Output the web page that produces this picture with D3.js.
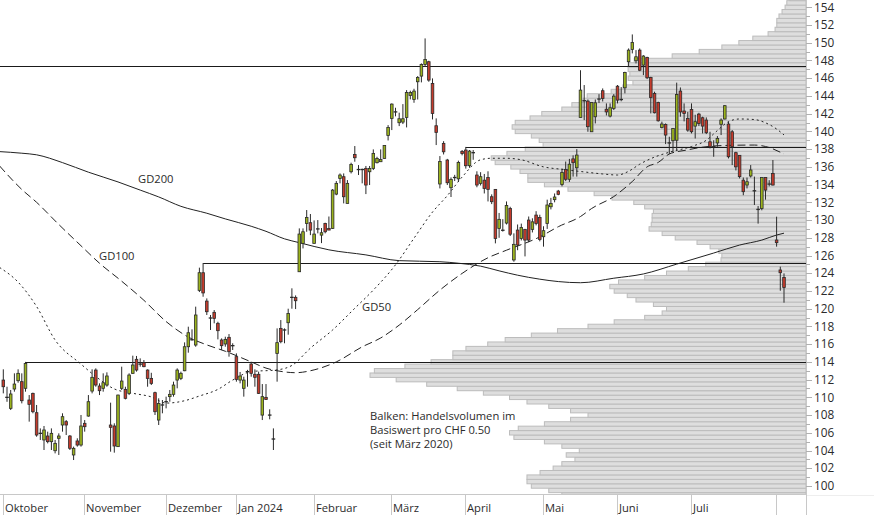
<!DOCTYPE html>
<html><head><meta charset="utf-8">
<script src="https://cdn.jsdelivr.net/npm/d3@7"></script>
<style>
body{margin:0;background:#fff}
svg{display:block}
text{font-family:"Open Sans",sans-serif;fill:#2b2b2b}
</style>
</head><body>
<svg id="c" width="874" height="515"></svg>
<script>
// ---------- DATA ----------
// trading-day index 0 = 2 Oct 2023 ... 211 = 6 Aug 2024
const monthIdx   = [0, 22, 44, 63, 84, 105, 125, 146, 166, 186, 209];
const monthNames = ["Oktober","November","Dezember","Jan 2024","Februar","März","April","Mai","Juni","Juli",""];

const openV = [111.95,110.05,108.76,110.94,111.88,111.77,111.02,109.7,110.45,108.27,105.98,105.19,105.64,105.0,103.98,105.38,106.88,107.26,105.64,103.5,105.08,104.62,
107.07,107.89,110.71,113.08,111.28,111.02,111.39,106.88,106.77,104.44,111.02,110.9,110.45,112.71,114.29,113.8,113.9,113.08,112.14,110.53,107.44,109.18,
109.55,110.08,110.34,111.95,112.14,113.0,115.71,116.6,115.9,122.07,124.06,120.86,119.0,119.59,118.35,116.47,116.02,116.77,115.87,
114.59,111.95,111.02,112.95,113.76,112.6,112.6,108.0,110.0,108.05,105.35,114.96,117.78,117.65,118.42,121.32,121.28,124.17,127.37,129.62,129.7,
127.37,128.9,128.3,129.62,129.06,129.06,132.93,134.7,134.89,131.88,135.45,137.4,135.75,135.75,135.83,135.45,135.83,136.47,136.58,136.95,139.55,
141.47,142.25,140.98,141.05,141.58,144.06,143.61,145.6,146.24,147.56,147.86,145.41,140.64,134.07,138.65,136.77,133.65,134.85,134.65,137.75,
137.9,136.13,137.5,135.08,134.14,134.5,134.8,132.63,133.46,129.06,128.9,129.66,131.3,125.5,128.87,127.93,128.95,130.0,128.95,130.56,130.3,
128.12,129.62,131.5,132.3,133.27,134.0,135.7,134.6,136.9,135.9,141.58,143.5,143.42,139.96,141.65,143.6,144.59,142.5,141.73,142.6,
145.1,143.65,144.92,147.86,149.25,147.97,149.17,147.48,148.35,146.09,144.29,143.27,140.45,140.79,138.8,138.95,139.0,144.55,142.3,141.47,
142.48,140.6,141.95,141.54,141.28,138.83,138.3,138.7,140.8,141.4,140.83,139.96,137.6,137.3,134.5,133.95,134.97,133.35,131.25,131.3,134.8,134.1,135.26,
127.75,124.37,123.53];
const highV = [113.16,111.2,110.83,112.71,113.16,112.71,114.0,110.26,110.53,109.14,106.5,106.77,106.13,106.5,105.19,105.94,108.2,107.44,105.75,104.44,105.38,108.01,
107.44,110.26,113.16,113.27,111.58,112.71,112.82,109.4,107.07,110.3,113.46,111.2,112.71,114.7,114.67,114.4,114.21,113.16,112.77,110.64,109.89,109.7,
110.08,110.83,111.77,113.27,112.9,116.2,117.97,117.67,120.23,124.63,125.15,121.16,119.29,119.85,118.53,116.65,116.84,117.14,116.1,
114.96,112.86,112.33,113.1,114.02,113.16,112.9,111.5,111.5,108.65,106.5,117.78,118.72,117.78,120.0,122.3,121.5,129.06,129.06,131.13,130.68,
129.96,130.0,129.1,129.7,130.4,133.5,134.4,135.26,135.26,134.51,136.47,138.35,136.2,135.8,136.1,136.1,137.97,137.14,137.97,138.42,140.71,
143.16,142.67,142.11,143.08,144.66,144.59,144.81,146.24,147.67,150.49,147.97,145.98,141.47,137.22,138.9,136.9,134.81,135.1,136.7,137.9,
138.25,137.9,137.9,135.5,135.4,135.2,135.5,132.9,133.5,130.8,130.1,132.1,131.5,128.5,129.5,129.6,129.0,130.4,130.2,131.0,130.6,
129.3,132.3,132.5,133.0,133.4,135.8,136.6,136.9,137.3,138.0,146.9,145.23,143.6,143.3,143.6,144.2,144.85,143.16,143.16,144.21,
145.23,145.0,146.73,149.36,150.94,149.17,149.36,148.6,148.42,146.16,144.48,143.35,141.1,140.9,139.4,140.34,145.5,144.96,143.16,142.2,
143.16,141.88,142.1,141.66,141.58,139.96,139.0,139.47,141.47,142.97,141.1,140.15,137.7,137.3,134.8,134.8,136.2,134.9,131.58,134.8,134.8,134.5,136.77,
130.38,124.74,123.98];
const lowV = [110.45,109.5,108.57,110.64,111.65,109.32,110.64,107.26,108.2,105.56,105.19,104.06,104.81,104.06,103.68,103.5,106.13,105.75,104.06,102.93,104.44,104.44,
106.13,107.82,110.45,111.2,110.26,110.64,111.2,103.87,103.76,104.4,110.83,109.77,110.26,112.65,112.9,113.46,113.4,111.2,111.39,108.01,106.88,108.2,
108.76,109.51,110.08,111.02,111.95,112.95,115.04,116.4,115.71,121.88,121.35,119.29,117.6,118.35,116.54,115.34,115.71,114.59,115.34,
111.77,111.58,110.08,111.2,112.33,111.2,110.38,107.44,109.7,107.52,104.06,111.77,116.1,116.1,117.07,120.0,119.96,124.17,126.8,128.68,128.3,
127.37,128.5,127.4,128.5,128.87,129.0,132.8,134.14,131.88,131.88,135.26,136.58,135.08,134.14,132.93,133.95,135.64,136.39,136.58,136.95,138.98,
140.15,141.7,140.6,140.83,140.45,143.61,143.23,143.6,145.53,147.3,145.6,141.35,138.46,133.57,137.4,133.95,132.6,134.4,134.3,137.3,
135.8,135.9,136.8,133.7,133.9,133.0,132.1,131.8,127.37,128.0,128.7,129.5,128.2,125.3,126.6,127.7,125.9,127.5,128.6,129.4,127.6,
127.0,129.0,131.2,132.0,132.8,133.8,134.4,134.3,134.9,134.9,141.58,141.28,139.96,139.96,140.9,143.2,143.38,141.8,141.58,142.41,
143.16,143.4,144.29,147.3,148.8,147.67,146.8,146.35,145.9,142.03,142.03,141.1,140.34,138.57,137.44,137.7,137.9,141.66,141.13,139.96,
139.77,139.2,140.6,139.77,139.7,138.08,137.14,138.27,139.59,141.35,136.95,136.2,135.6,134.7,132.8,133.57,134.8,131.7,129.6,131.1,132.3,133.8,133.9,
127.0,122.03,120.68];
const closeV = [111.2,110.0,110.38,111.5,112.71,109.62,113.83,109.21,108.38,105.75,105.94,106.32,105.0,105.94,104.81,105.64,107.82,106.88,104.25,104.25,104.62,106.77,
106.69,109.51,112.26,111.39,110.75,111.65,112.41,106.62,104.51,110.26,111.84,109.89,112.52,113.65,113.08,113.75,113.46,112.14,111.58,108.38,109.32,109.14,
109.51,110.34,111.39,113.08,112.71,115.71,117.29,116.5,119.29,124.06,121.78,119.66,118.95,118.91,117.52,115.83,116.54,115.15,115.83,
112.03,112.41,111.95,112.9,112.71,112.26,110.45,110.08,109.77,108.0,105.3,116.17,116.28,117.6,119.47,121.28,120.9,128.42,128.68,130.3,128.87,
128.42,129.0,128.57,128.68,128.87,133.38,134.14,135.08,132.63,134.14,136.28,137.03,135.7,135.7,133.95,135.83,137.52,136.95,136.84,138.42,140.45,
143.08,142.2,141.43,141.43,144.4,144.4,144.55,146.09,147.56,148.12,145.79,142.03,139.89,136.6,137.7,134.21,134.59,134.8,136.5,137.5,
136.13,137.78,137.6,133.95,134.89,133.57,133.46,132.07,127.93,130.08,128.85,131.65,128.4,127.26,127.18,129.17,127.74,127.74,129.8,129.62,127.82,
128.8,131.7,131.88,132.6,132.9,135.38,134.6,136.3,136.47,137.33,144.66,143.46,140.53,143.27,143.23,143.65,143.72,142.2,142.67,143.98,
143.53,143.6,146.65,149.17,150.04,148.42,146.9,148.5,146.05,143.83,142.1,141.2,140.83,139.59,138.7,140.34,144.17,142.2,142.03,140.15,
139.96,141.1,140.9,140.6,139.85,138.27,138.27,139.2,141.28,142.9,137.14,138.27,136.0,134.9,133.2,134.32,135.65,133.3,131.2,134.8,133.38,134.06,133.95,
127.45,124.06,122.4];

// moving averages: [trading-day index, value]
const gd200 = [[-1,137.72],[5,137.54],[9,137.36],[16,136.48],[23,135.4],[31,134.3],[37,133.38],[42,132.61],[48,131.55],[55,130.77],[60,130.13],[67,129.3],[71,128.73],[76,127.88],[80,127.45],[88,126.64],[98,126.07],[107,125.42],[118,125.3],[123,125.13],[129,124.8],[134,124.27],[139,123.78],[145,123.33],[150,123.06],[156,122.93],[165,123.44],[173,123.92],[182,125.03],[192,126.28],[199,127.18],[205,127.74],[209,128.31],[211,128.52]];
const gd100 = [[-1,136.1],[5,133.45],[9,132.0],[15,129.5],[21,127.1],[26,125.13],[32,123.1],[38,120.95],[44,118.55],[50,116.8],[55,115.92],[60,115.2],[67,114.0],[71,113.3],[76,112.87],[79,112.78],[84,113.1],[90,114.0],[97,115.7],[102,116.7],[107,118.15],[112,119.9],[118,122.1],[124,123.98],[131,125.75],[136,126.6],[145,128.1],[150,129.25],[156,130.4],[159,131.3],[165,132.65],[170,134.35],[174,136.0],[177,136.5],[180,137.45],[185,137.92],[188,138.16],[194,138.4],[203,138.46],[206,138.3],[211,137.45]];
const gd50 = [[-1,124.65],[4,123.0],[9,120.25],[14,116.47],[21,113.75],[25,112.35],[30,110.95],[35,110.46],[40,110.05],[44,109.35],[49,109.62],[53,110.15],[58,110.9],[62,111.95],[67,112.9],[74,113.1],[78,113.6],[83,115.55],[89,117.6],[95,120.05],[100,122.1],[106,124.95],[111,127.95],[116,130.9],[120,132.75],[124,134.85],[129,136.8],[132,136.97],[136,136.97],[140,136.8],[146,136.0],[151,135.72],[157,135.43],[162,135.2],[166,135.08],[169,135.5],[172,136.3],[176,137.1],[180,137.65],[186,138.3],[190,139.0],[193,140.1],[196,141.1],[199,141.4],[203,141.34],[206,140.97],[209,140.27],[211,139.6]];
const maLabels = ["GD200","GD100","GD50"];

// volume profile (CHF 0.50 buckets since March 2020), relative volume
const volLevels = d3.range(99, 155.01, 0.5);
const volValues = [56,59,63,64,64,61,58,56,53,55,52,56,60,67,68,66,60,54,50,54,59,64,68,74,80,87,94,100,99,92,86,81,81,78,73,69,63,57,
50,44,37,33,32,35,39,41,44,45,43,37,32,27,23,19.5,19.3,20,22,25,30,33,36,35.5,35.3,35.3,35,37,39.5,44.5,48.6,54.6,60,63.8,63.8,65.6,67.7,71.3,72.2,68.6,
64.4,60.3,61.2,63,66.7,67.4,66.7,63.3,60.6,56,53.7,51.1,50.2,44.7,42,39.7,40.8,40.4,40.8,40.8,39.4,30.7,24.5,19.3,15.4,12.2,8.7,7.1,6.7,6.7,6.2,5.5,4.8,4.4,3.7];

// resistance / support lines: level and starting trading day (-1 = from left edge)
const resLevels = [147.42, 138.25, 125.15, 114.0];
const resStart  = [-1, 125, 54, 6];

const yTicks = d3.range(100, 155, 1);
const noteLines = ["Balken: Handelsvolumen im","Basiswert pro CHF 0.50","(seit März 2020)"];

// ---------- DRAW ----------
const svg = d3.select("#c");
const plotR = 806, plotB = 494;
const x = d3.scaleLinear().domain([0, 211]).range([3.3, 784]);
const y = d3.scaleLinear().domain([100, 154]).range([486, 7.3]);
const xv = d3.scaleLinear().domain([0, 100]).range([plotR, 370]);
const FS = "11.2px";

svg.append("defs").append("clipPath").attr("id","clip")
  .append("rect").attr("x",0).attr("y",0).attr("width",plotR).attr("height",plotB);

const g = svg.append("g").attr("clip-path","url(#clip)");

// volume profile
g.append("g").selectAll("rect").data(volLevels).join("rect")
  .attr("x",(d,i)=>xv(volValues[i]))
  .attr("y",d=>y(d+0.25))
  .attr("width",(d,i)=>plotR - xv(volValues[i]))
  .attr("height",d=>y(d-0.25)-y(d+0.25))
  .attr("fill","#dedede").attr("stroke","#bcbcbc").attr("stroke-width",1);

// moving averages
const line = d3.line().x(d=>x(d[0])).y(d=>y(d[1])).curve(d3.curveMonotoneX);
g.append("path").datum(gd200).attr("d",line).attr("fill","none").attr("stroke","#222").attr("stroke-width",1);
g.append("path").datum(gd100).attr("d",line).attr("fill","none").attr("stroke","#222").attr("stroke-width",1).attr("stroke-dasharray","8,4");
g.append("path").datum(gd50).attr("d",line).attr("fill","none").attr("stroke","#222").attr("stroke-width",1).attr("stroke-dasharray","2,3");

// horizontal lines
g.append("g").selectAll("line").data(resLevels).join("line")
  .attr("x1",(d,i)=>resStart[i] < 0 ? 0 : x(resStart[i]))
  .attr("x2",plotR)
  .attr("y1",d=>Math.round(y(d))+0.5).attr("y2",d=>Math.round(y(d))+0.5)
  .attr("stroke","#1a1a1a").attr("stroke-width",1.1);

// candles
const idx = d3.range(openV.length);
const cg = g.append("g");
cg.selectAll("line.w").data(idx).join("line").attr("class","w")
  .attr("x1",i=>x(i)).attr("x2",i=>x(i))
  .attr("y1",i=>y(highV[i])).attr("y2",i=>y(lowV[i]))
  .attr("stroke","#2a2a2a").attr("stroke-width",1);
const bodyIdx = idx.filter(i=>Math.abs(y(openV[i])-y(closeV[i]))>=1.2);
const dojiIdx = idx.filter(i=>Math.abs(y(openV[i])-y(closeV[i]))<1.2);
cg.selectAll("rect.b").data(bodyIdx).join("rect").attr("class","b")
  .attr("x",i=>x(i)-1.3).attr("width",2.6)
  .attr("y",i=>y(Math.max(openV[i],closeV[i])))
  .attr("height",i=>Math.abs(y(openV[i])-y(closeV[i])))
  .attr("fill",i=>closeV[i]>=openV[i] ? "#9bb31d" : "#c53b2c")
  .attr("stroke","#2a2a2a").attr("stroke-width",0.8);
cg.selectAll("line.d").data(dojiIdx).join("line").attr("class","d")
  .attr("x1",i=>x(i)-1.8).attr("x2",i=>x(i)+1.8)
  .attr("y1",i=>y(closeV[i])).attr("y2",i=>y(closeV[i]))
  .attr("stroke","#2a2a2a").attr("stroke-width",1.3);

// MA labels
svg.append("text").attr("x",138).attr("y",183).attr("font-size",FS).text(maLabels[0]);
svg.append("text").attr("x",99).attr("y",259.5).attr("font-size",FS).text(maLabels[1]);
svg.append("text").attr("x",362).attr("y",310.5).attr("font-size",FS).text(maLabels[2]);

// note
svg.append("g").selectAll("text").data(noteLines).join("text")
  .attr("x",370).attr("y",(d,i)=>420+i*14).attr("font-size",FS).text(d=>d);

// right axis
const ax = svg.append("g");
ax.append("line").attr("x1",plotR+0.5).attr("x2",plotR+0.5).attr("y1",0).attr("y2",plotB)
  .attr("stroke","#c8c8c8");
ax.selectAll("line.t").data(yTicks).join("line").attr("class","t")
  .attr("x1",plotR).attr("x2",d=>d%2===0 ? plotR+6 : plotR+4)
  .attr("y1",d=>Math.round(y(d))+0.5).attr("y2",d=>Math.round(y(d))+0.5)
  .attr("stroke","#b0b0b0");
ax.selectAll("text").data(yTicks.filter(d=>d%2===0)).join("text")
  .attr("x",814).attr("y",d=>y(d)+4.2).attr("font-size","11.8px").text(d=>d);

// bottom axis
const bx = svg.append("g");
bx.append("line").attr("x1",0).attr("x2",plotR).attr("y1",plotB+0.5).attr("y2",plotB+0.5).attr("stroke","#c8c8c8");
bx.append("line").attr("x1",plotR).attr("x2",874).attr("y1",plotB+1.5).attr("y2",plotB+1.5).attr("stroke","#eeeeee");
bx.selectAll("line.m").data(monthIdx).join("line").attr("class","m")
  .attr("x1",d=>Math.round(x(d)-0.5)+0.5).attr("x2",d=>Math.round(x(d)-0.5)+0.5)
  .attr("y1",plotB).attr("y2",515).attr("stroke","#c8c8c8");
bx.append("line").attr("x1",plotR+0.5).attr("x2",plotR+0.5).attr("y1",plotB).attr("y2",515).attr("stroke","#c8c8c8");
bx.selectAll("text").data(monthIdx).join("text")
  .attr("x",d=>Math.round(x(d)-0.5)+2).attr("y",511.5).attr("font-size",FS)
  .text((d,i)=>monthNames[i]);
</script>
</body></html>
